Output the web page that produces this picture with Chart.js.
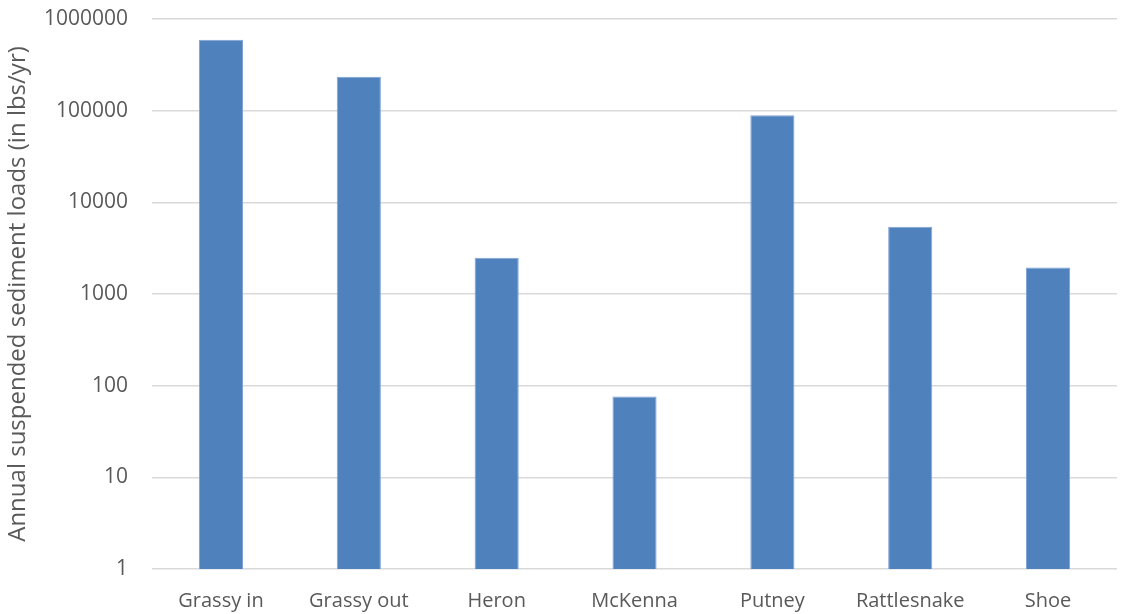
<!DOCTYPE html>
<html>
<head>
<meta charset="utf-8">
<script src="https://cdn.jsdelivr.net/npm/chart.js@4/dist/chart.umd.min.js"></script>
<style>
    html, body { margin: 0; padding: 0; background: #fff; }
    #wrap { width: 1125px; height: 614px; }
</style>
</head>
<body>
<div id="wrap"><canvas id="sedimentChart"></canvas></div>
<script>
// Sites and their annual suspended sediment loads
const sites = ['Grassy in', 'Grassy out', 'Heron', 'McKenna', 'Putney', 'Rattlesnake', 'Shoe'];
const loads = [595000, 235000, 2480, 76, 89000, 5430, 1940];
const tickValues = [1, 10, 100, 1000, 10000, 100000, 1000000];

const ctx = document.getElementById('sedimentChart').getContext('2d');

window.sedimentChart = new Chart(ctx, {
    type: 'bar',
    data: {
        labels: sites,
        datasets: [{
            label: 'Annual suspended sediment loads',
            data: loads,
            backgroundColor: '#4f81bd',
            borderColor: '#7ea3d4',
            borderWidth: { top: 1, left: 1, right: 1, bottom: 0 },
            barPercentage: 0.32,
            categoryPercentage: 1
        }]
    },
    options: {
        responsive: true,
        maintainAspectRatio: false,
        animation: false,
        layout: {
            padding: { top: 19, right: 8, bottom: -11, left: 6 }
        },
        plugins: {
            legend: { display: false },
            tooltip: { enabled: false }
        },
        scales: {
            x: {
                grid: { display: false },
                border: { display: false },
                ticks: {
                    color: '#595959',
                    font: { family: 'Open Sans', size: 20 },
                    padding: 12,
                    maxRotation: 0
                }
            },
            y: {
                type: 'logarithmic',
                min: 1,
                max: 1000000,
                afterBuildTicks: function (axis) {
                    axis.ticks = tickValues.map(v => ({ value: v }));
                },
                grid: {
                    color: '#d9d9d9',
                    lineWidth: 1.5,
                    drawTicks: true,
                    tickLength: 22,
                    tickColor: 'rgba(0,0,0,0)'
                },
                border: { display: false },
                ticks: {
                    color: '#595959',
                    font: { family: 'Open Sans', size: 21, lineHeight: 1 },
                    padding: 2,
                    callback: function (value) {
                        return String(value);
                    }
                },
                title: {
                    display: true,
                    text: 'Annual suspended sediment loads (in lbs/yr)',
                    color: '#595959',
                    font: { family: 'Open Sans', size: 24, lineHeight: 1 },
                    padding: { top: 0, bottom: 12 }
                }
            }
        }
    }
});
</script>
</body>
</html>
